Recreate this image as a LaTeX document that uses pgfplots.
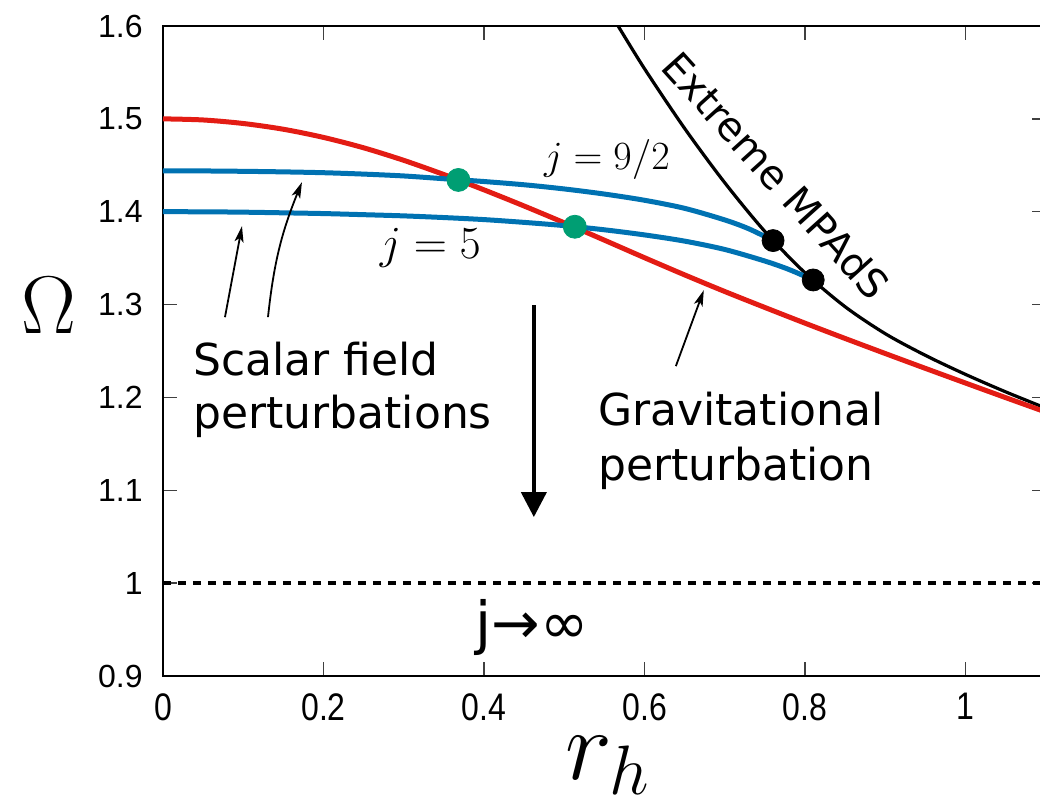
\RequirePackage{fix-cm}
\documentclass[border=0pt]{standalone}
\usepackage[no-math]{fontspec}
\usepackage{pgfplots}
\pgfplotsset{compat=1.18}
\usetikzlibrary{arrows.meta}
\newfontfamily\helv{Liberation Sans}
\newfontfamily\dejavu{DejaVu Sans}
\definecolor{cred}{RGB}{227,28,20}
\definecolor{cblue}{RGB}{0,114,178}
\definecolor{cgreen}{RGB}{0,158,115}
\begin{document}
\begin{tikzpicture}
\begin{axis}[
  scale only axis,
  width=441.5pt, height=325pt,
  xmin=0, xmax=1.1, ymin=0.9, ymax=1.6,
  xtick={0,0.2,0.4,0.6,0.8,1},
  ytick={0.9,1,1.1,1.2,1.3,1.4,1.5,1.6},
  tick align=inside,
  major tick length=7pt,
  tick style={line width=0.75pt, black!75},
  axis line style={line width=1.3pt},
  /pgf/number format/assume math mode=true,
  yticklabel style={font=\helv\fontsize{16}{16}\selectfont, inner sep=0pt, xshift=-10pt},
  xticklabel style={font=\helv\fontsize{16}{16}\selectfont, inner sep=0pt, yshift=-8.5pt, yscale=1.2},
  clip mode=individual,
]
% dashed j -> infinity line
\addplot[black, line width=2pt, dash pattern=on 4pt off 3.5pt] coordinates {(0,1) (1.1,1)};
% Extreme MPAdS
\addplot[black, line width=1.6pt, smooth] coordinates {
 (0.567,1.6000) (0.600,1.5538) (0.650,1.4895) (0.700,1.4310) (0.750,1.3785)
 (0.800,1.3340) (0.850,1.2975) (0.900,1.2685) (0.950,1.2452) (1.000,1.2247)
 (1.050,1.2059) (1.100,1.1884)};
% gravitational perturbation
\addplot[cred, line width=2.5pt, smooth] coordinates {
 (0.00,1.5000) (0.05,1.4988) (0.10,1.4950) (0.15,1.4888) (0.20,1.4800)
 (0.25,1.4688) (0.30,1.4553) (0.35,1.4400) (0.40,1.4235) (0.45,1.4061)
 (0.50,1.3880) (0.55,1.3693) (0.60,1.3504) (0.65,1.3319) (0.70,1.3140)
 (0.75,1.2968) (0.80,1.2799) (0.85,1.2634) (0.90,1.2472) (0.95,1.2312)
 (1.00,1.2154) (1.05,1.1997) (1.10,1.1842)};
% j = 9/2
\addplot[cblue, line width=2.5pt, smooth] coordinates {
 (0.00,1.4440) (0.05,1.4439) (0.10,1.4435) (0.15,1.4429) (0.20,1.4420)
 (0.25,1.4405) (0.30,1.4385) (0.35,1.4355) (0.40,1.4325) (0.45,1.4290)
 (0.50,1.4245) (0.55,1.4190) (0.60,1.4123) (0.65,1.4036) (0.70,1.3911)
 (0.73,1.3815) (0.76,1.3689)};
% j = 5
\addplot[cblue, line width=2.5pt, smooth] coordinates {
 (0.00,1.4000) (0.05,1.3999) (0.10,1.3995) (0.15,1.3988) (0.20,1.3980)
 (0.25,1.3968) (0.30,1.3955) (0.35,1.3937) (0.40,1.3915) (0.45,1.3885)
 (0.50,1.3850) (0.55,1.3805) (0.60,1.3750) (0.65,1.3683) (0.70,1.3593)
 (0.75,1.3468) (0.78,1.3377) (0.81,1.3265)};
% intersection markers
\addplot[only marks, mark=*, mark size=5.75pt, cgreen, mark options={draw=cgreen, fill=cgreen}] coordinates {(0.368,1.4342) (0.513,1.3838)};
\addplot[only marks, mark=*, mark size=5.5pt, black] coordinates {(0.760,1.3689) (0.810,1.3265)};

% annotation arrows
\draw[line width=0.9pt, -{Stealth[length=8pt,width=4.5pt,inset=2pt]}] (axis cs:0.0772,1.2864) -- (axis cs:0.0984,1.3844);
\draw[line width=0.9pt, -{Stealth[length=8pt,width=4.5pt,inset=2pt]}] (axis cs:0.1308,1.2865) to[bend left=8] (axis cs:0.1731,1.4318);
\draw[line width=0.9pt, -{Stealth[length=8pt,width=4.5pt,inset=2pt]}] (axis cs:0.6389,1.2337) -- (axis cs:0.6737,1.3155);
\draw[line width=2pt, -{Triangle[length=12.5pt,width=12.5pt]}] (axis cs:0.462,1.2994) -- (axis cs:0.462,1.0711);

% texts
\node[anchor=base west, inner sep=0pt, font=\dejavu\fontsize{22}{22}\selectfont] at (axis cs:0.0374,1.224) {Scalar field};
\node[anchor=base west, inner sep=0pt, font=\dejavu\fontsize{22}{22}\selectfont] at (axis cs:0.0374,1.166) {perturbations};
\node[anchor=base west, inner sep=0pt, font=\dejavu\fontsize{22}{22}\selectfont] at (axis cs:0.5417,1.170) {Gravitational};
\node[anchor=base west, inner sep=0pt, font=\dejavu\fontsize{22}{22}\selectfont] at (axis cs:0.5417,1.111) {perturbation};
\node[rotate=-48, inner sep=0pt, font=\dejavu\fontsize{20}{20}\selectfont] at (axis cs:0.7634,1.4394) {Extreme MPAdS};
\node[anchor=base, inner sep=0pt, font=\fontsize{20}{20}\selectfont] at (axis cs:0.553,1.4458) {$j=9/2$};
\node[anchor=base, inner sep=0pt, font=\fontsize{23}{23}\selectfont] at (axis cs:0.333,1.350) {$j=5$};
\node[anchor=base, inner sep=0pt, font=\dejavu\fontsize{29}{29}\selectfont] at (axis cs:0.4595,0.935) {j→∞};
% axis labels
\node[inner sep=0pt, font=\fontsize{41}{41}\selectfont] at (axis cs:-0.142,1.299) {$\Omega$};
\node[anchor=base, inner sep=0pt, font=\fontsize{50}{50}\selectfont] at (axis cs:0.554,0.788) {$r_h$};
\end{axis}
\pgfresetboundingbox
\path[use as bounding box] (current axis.south west) ++(-81.5pt,-60pt) rectangle ++(520pt,398pt);
\end{tikzpicture}
\end{document}
